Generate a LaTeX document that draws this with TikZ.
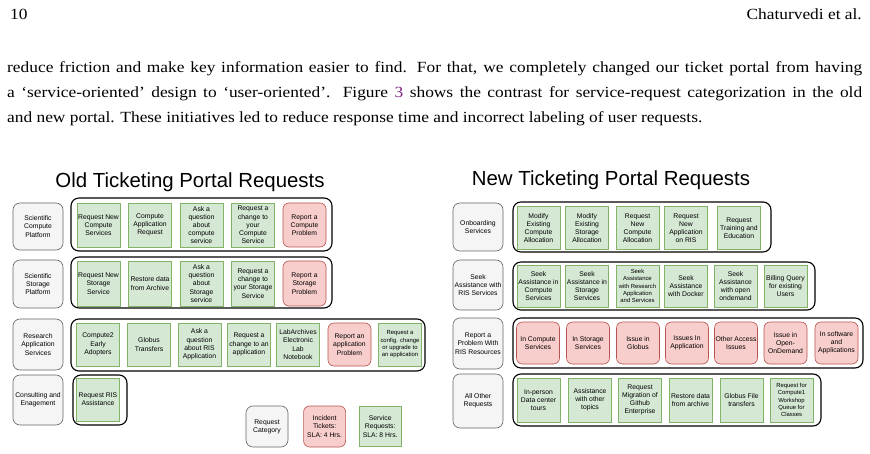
\documentclass[tikz,border=0pt]{standalone}
\usepackage{fontspec}
\setmainfont{Liberation Serif}[FakeStretch=1.12]
\newfontfamily\diagfont{Liberation Sans}
\usepackage{tikz}
\usetikzlibrary{positioning}
\definecolor{rqvert}{HTML}{D5E8D4}
\definecolor{rqvertb}{HTML}{82B366}
\definecolor{rqrouge}{HTML}{F8CECC}
\definecolor{rqrougeb}{HTML}{B85450}
\definecolor{rqgris}{HTML}{F5F5F5}
\definecolor{rqgrisb}{HTML}{666666}
\definecolor{lienviolet}{RGB}{125,35,125}

\tikzset{
  pagetext/.style={font=\fontsize{15.5}{18}\selectfont, anchor=base west, inner sep=0pt},
  titre/.style={font=\diagfont\fontsize{20.4}{24}\selectfont, inner sep=0pt},
  catbox/.style={rectangle, rounded corners=7pt, fill=rqgris, draw=rqgrisb, line width=0.6pt,
        minimum width=50pt, minimum height=48pt, align=center, inner sep=1pt,
        font=\diagfont\fontsize{6.8}{8.2}\selectfont},
  svcbox/.style={rectangle, fill=rqvert, draw=rqvertb, line width=0.6pt,
        minimum width=43pt, minimum height=44pt, align=center, inner sep=0.5pt,
        font=\diagfont\fontsize{6.8}{8.2}\selectfont},
  incbox/.style={svcbox, rounded corners=6pt, fill=rqrouge, draw=rqrougeb},
  groupbox/.style={rectangle, rounded corners=8pt, draw=black, line width=1.1pt, fill=white,
        inner sep=0pt},
  petit/.style={font=\diagfont\fontsize{5.9}{7.3}\selectfont}
}

\begin{document}
\begin{tikzpicture}[x=1pt, y=-1pt]
  \fill[white] (0,0) rectangle (870,454);
  \useasboundingbox (0,0) rectangle (870,454);

  \node[pagetext] (numpage) at (10,20) {10};
  \node[pagetext, anchor=base east] (auteurs) at (862,20) {Chaturvedi et al.};
  \node[pagetext] (ligne1) at (7,73) {\makebox[855pt][s]{reduce friction and make key information easier to find. For that, we completely changed our ticket portal from having}};
  \node[pagetext] (ligne2) at (7,98) {\makebox[855pt][s]{a `service-oriented' design to `user-oriented'. Figure \textcolor{lienviolet}{3} shows the contrast for service-request categorization in the old}};
  \node[pagetext] (ligne3) at (7,123) {and new portal. These initiatives led to reduce response time and incorrect labeling of user requests.};

  \node[titre] (titreold) at (190,182) {Old Ticketing Portal Requests};
  \node[titre] (titrenew) at (611,180) {New Ticketing Portal Requests};

  \node[groupbox, minimum width=261pt, minimum height=53pt] (og1) at (201.5,224.5) {};
  \node[groupbox, minimum width=261pt, minimum height=51pt] (og2) at (201.5,282.5) {};
  \node[groupbox, minimum width=354pt, minimum height=52pt] (og3) at (248,345) {};
  \node[groupbox, minimum width=54pt, minimum height=50pt] (og4) at (100,400) {};
  \node[groupbox, minimum width=258pt, minimum height=50pt] (ng1) at (642,227) {};
  \node[groupbox, minimum width=302pt, minimum height=48pt] (ng2) at (664,286) {};
  \node[groupbox, minimum width=350pt, minimum height=50pt] (ng3) at (688,343) {};
  \node[groupbox, minimum width=308pt, minimum height=52pt] (ng4) at (667,400) {};

  \node[catbox, minimum height=47pt] (oc1) at (38,226.5) {Scientific\\Compute\\Platform};
  \node[catbox] (oc2) at (38,284) {Scientific\\Storage\\Platform};
  \node[catbox, minimum height=51pt] (oc3) at (38,344.5) {Research\\Application\\Services};
  \node[catbox, minimum height=50pt] (oc4) at (38,400) {Consulting and\\Enagement};

  \node[svcbox] (o11) at (98.5,225) {Request New\\Compute\\Services};
  \node[svcbox] (o12) at (150,225) {Compute\\Application\\Request};
  \node[svcbox] (o13) at (201.5,225) {Ask a\\question\\about\\compute\\service};
  \node[svcbox] (o14) at (253,225) {Request a\\change to\\your\\Compute\\Service};
  \node[incbox] (o15) at (304.5,225) {Report a\\Compute\\Problem};

  \node[svcbox, minimum height=45pt] (o21) at (98.5,283.5) {Request New\\Storage\\Service};
  \node[svcbox, minimum height=45pt] (o22) at (150,283.5) {Restore data\\from Archive};
  \node[svcbox, minimum height=45pt] (o23) at (201.5,283.5) {Ask a\\question\\about\\Storage\\service};
  \node[svcbox, minimum height=45pt] (o24) at (253,283.5) {Request a\\change to\\your Storage\\Service};
  \node[incbox, minimum height=45pt] (o25) at (304.5,283.5) {Report a\\Storage\\Problem};

  \node[svcbox, minimum height=43pt] (o31) at (98,344.5) {Compute2\\Early\\Adopters};
  \node[svcbox, minimum height=43pt] (o32) at (149,344.5) {Globus\\Transfers};
  \node[svcbox, minimum height=43pt] (o33) at (199.5,344.5) {Ask a\\question\\about RIS\\Application};
  \node[svcbox, minimum height=43pt] (o34) at (249,344.5) {Request a\\change to an\\application};
  \node[svcbox, minimum height=43pt] (o35) at (298,344.5) {LabArchives\\Electronic\\Lab\\Notebook};
  \node[incbox, minimum height=43pt] (o36) at (349.5,344.5) {Report an\\application\\Problem};
  \node[svcbox, petit, minimum height=43pt] (o37) at (400,344.5) {Request a\\config. change\\or upgrade to\\an application};

  \node[svcbox, minimum height=43pt] (o41) at (98,399.5) {Request RIS\\Assistance};

  \node[catbox, minimum width=42pt, minimum height=41pt] (lg1) at (267,426.5) {Request\\Category};
  \node[incbox, minimum width=42pt, minimum height=41pt, right=15pt of lg1] (lg2) {Incident\\Tickets:\\SLA: 4 Hrs.};
  \node[svcbox, minimum width=42pt, minimum height=40pt, right=13pt of lg2] (lg3) {Service\\Requests:\\SLA: 8 Hrs.};

  \node[catbox] (nc1) at (478,227) {Onboarding\\Services};
  \node[catbox, minimum height=50pt] (nc2) at (478,285) {Seek\\Assistance with\\RIS Services};
  \node[catbox, minimum height=51pt] (nc3) at (478,343.5) {Report a\\Problem With\\RIS Resources};
  \node[catbox, minimum height=54pt] (nc4) at (478,401) {All Other\\Requests};

  \node[svcbox, minimum height=43pt] (n11) at (538.5,228) {Modify\\Existing\\Compute\\Allocation};
  \node[svcbox, minimum height=43pt] (n12) at (587,228) {Modify\\Existing\\Storage\\Allocation};
  \node[svcbox, minimum height=43pt] (n13) at (637.5,228) {Request\\New\\Compute\\Allocation};
  \node[svcbox, minimum height=43pt] (n14) at (686,228) {Request\\New\\Application\\on RIS};
  \node[svcbox, minimum height=43pt] (n15) at (739,228) {Request\\Training and\\Education};

  \node[svcbox, minimum height=42pt] (n21) at (538.5,286) {Seek\\Assistance in\\Compute\\Services};
  \node[svcbox, minimum height=42pt] (n22) at (587,286) {Seek\\Assistance in\\Storage\\Services};
  \node[svcbox, petit, minimum height=42pt] (n23) at (637.5,286) {Seek\\Assistance\\with Research\\Application\\and Services};
  \node[svcbox, minimum height=42pt] (n24) at (686,286) {Seek\\Assistance\\with Docker};
  \node[svcbox, minimum height=42pt] (n25) at (735.5,286) {Seek\\Assistance\\with open\\ondemand};
  \node[svcbox, minimum height=42pt] (n26) at (785.5,286) {Billing Query\\for existing\\Users};

  \node[incbox, minimum height=42pt] (n31) at (538,343) {In Compute\\Services};
  \node[incbox, minimum height=42pt] (n32) at (588,343) {In Storage\\Services};
  \node[incbox, minimum height=42pt] (n33) at (638,343) {Issue in\\Globus};
  \node[incbox, minimum height=42pt] (n34) at (687,343) {Issues In\\Application};
  \node[incbox, minimum height=42pt] (n35) at (736,343) {Other Access\\Issues};
  \node[incbox, minimum height=42pt] (n36) at (785.5,343) {Issue in\\Open-\\OnDemand};
  \node[incbox, minimum height=42pt] (n37) at (836.5,343) {In software\\and\\Applications};

  \node[svcbox] (n41) at (538.5,400) {In-person\\Data center\\tours};
  \node[svcbox] (n42) at (590,400) {Assistance\\with other\\topics};
  \node[svcbox] (n43) at (640,400) {Request\\Migration of\\Github\\Enterprise};
  \node[svcbox] (n44) at (690.5,400) {Restore data\\from archive};
  \node[svcbox] (n45) at (741.5,400) {Globus File\\transfers};
  \node[svcbox, petit] (n46) at (791.5,400) {Request for\\Compute1\\Workshop\\Queue for\\Classes};
\end{tikzpicture}
\end{document}
